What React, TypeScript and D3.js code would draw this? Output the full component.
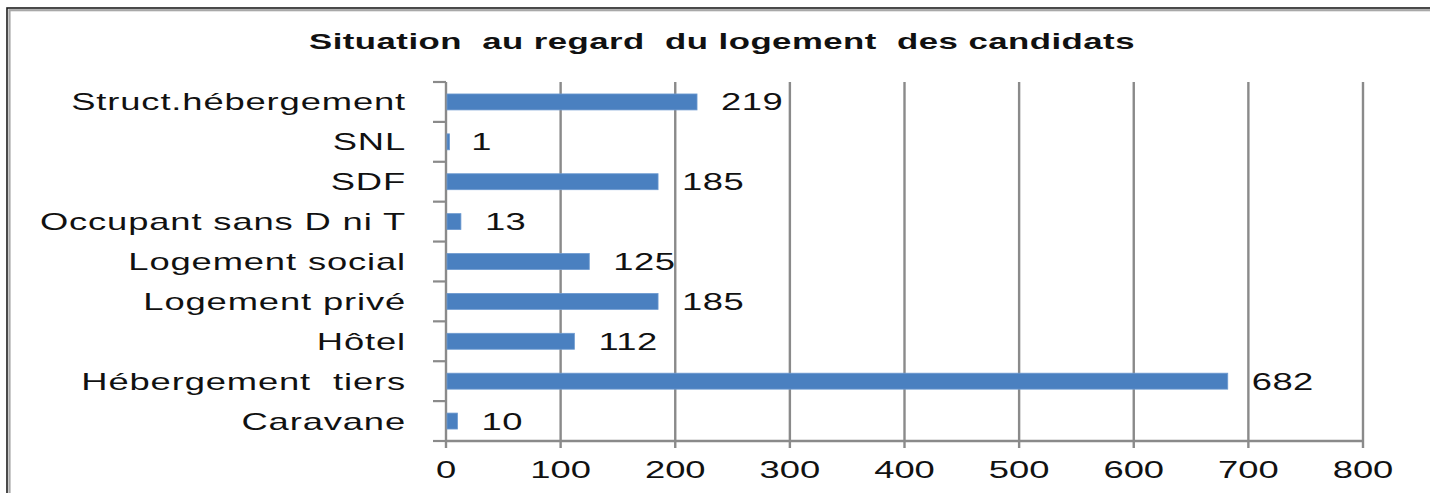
import React, { useEffect, useRef } from 'react';
import * as d3 from 'd3';

const title = "Situation  au regard  du logement  des candidats";
const categories = [
  "Struct.hébergement",
  "SNL",
  "SDF",
  "Occupant sans D ni T",
  "Logement social",
  "Logement privé",
  "Hôtel",
  "Hébergement  tiers",
  "Caravane",
];
const values = [219, 1, 185, 13, 125, 185, 112, 682, 10];
const xTicks = [0, 100, 200, 300, 400, 500, 600, 700, 800];

// the original picture is stretched horizontally, text included
const SX = 1.58;
const FONT = "'Liberation Sans', Arial, sans-serif";

const App = () => {
  const ref = useRef<SVGSVGElement>(null);

  useEffect(() => {
    const svg = d3.select(ref.current);
    svg.selectAll("*").remove();

    const left = 446, right = 1363, top = 82, bottom = 441;

    const x = d3.scaleLinear().domain([0, 800]).range([left, right]);
    const y = d3.scaleBand()
      .domain(categories)
      .range([top, bottom])
      .paddingInner(0.6)
      .paddingOuter(0.3);
    const step = y.step();

    // frame
    svg.append("rect")
      .attr("x", 7).attr("y", 8)
      .attr("width", 1450).attr("height", 520)
      .attr("fill", "#fff")
      .attr("stroke", "#1e1e1e").attr("stroke-width", 1.6);
    svg.append("rect")
      .attr("x", 9.5).attr("y", 10.2)
      .attr("width", 1450).attr("height", 520)
      .attr("fill", "none")
      .attr("stroke", "#a8a8a8").attr("stroke-width", 2.2);

    const txt = (px: number, py: number, s: string, anchor: string, size = 23, weight = "normal", ls = 0) =>
      svg.append("text")
        .attr("transform", `translate(${px},${py}) scale(${SX},1)`)
        .attr("text-anchor", anchor)
        .attr("font-family", FONT)
        .attr("font-size", size)
        .attr("font-weight", weight)
        .attr("letter-spacing", ls)
        .attr("fill", "#111")
        .style("white-space", "pre")
        .text(s);

    txt(722, 49, title, "middle", 22, "bold", 0.3);

    // grid
    xTicks.forEach(t => {
      svg.append("line")
        .attr("x1", x(t)).attr("x2", x(t))
        .attr("y1", top).attr("y2", bottom + 7)
        .attr("stroke", "#8a8a8a").attr("stroke-width", 2.4);
      txt(x(t), 478, String(t), "middle");
    });
    svg.append("line")
      .attr("x1", left).attr("x2", right)
      .attr("y1", bottom).attr("y2", bottom)
      .attr("stroke", "#8a8a8a").attr("stroke-width", 2.4);

    // category ticks
    d3.range(categories.length + 1).forEach(i => {
      const ty = top + i * step;
      svg.append("line")
        .attr("x1", left - 13).attr("x2", left)
        .attr("y1", ty).attr("y2", ty)
        .attr("stroke", "#8a8a8a").attr("stroke-width", 2.2);
    });

    // bars
    svg.append("g")
      .selectAll("rect")
      .data(categories)
      .join("rect")
      .attr("x", left + 1)
      .attr("y", d => y(d)!)
      .attr("width", (d, i) => Math.max(2.5, x(values[i]) - left - 1))
      .attr("height", y.bandwidth())
      .attr("fill", "#4a80c0")
      .attr("stroke", "#6d9ad0")
      .attr("stroke-width", 0.8);

    categories.forEach((c, i) => {
      const cy = y(c)! + y.bandwidth() / 2;
      txt(406, cy + 8.5, c, "end", 23, "normal", 0.55);
      txt(x(values[i]) + 24, cy + 8.5, String(values[i]), "start", 23, "normal", 0.3);
    });
  }, []);

  return (
    <svg ref={ref} width={1430} height={493}
      style={{ position: 'absolute', left: 0, top: 0, background: '#fff' }} />
  );
};

export default App;
